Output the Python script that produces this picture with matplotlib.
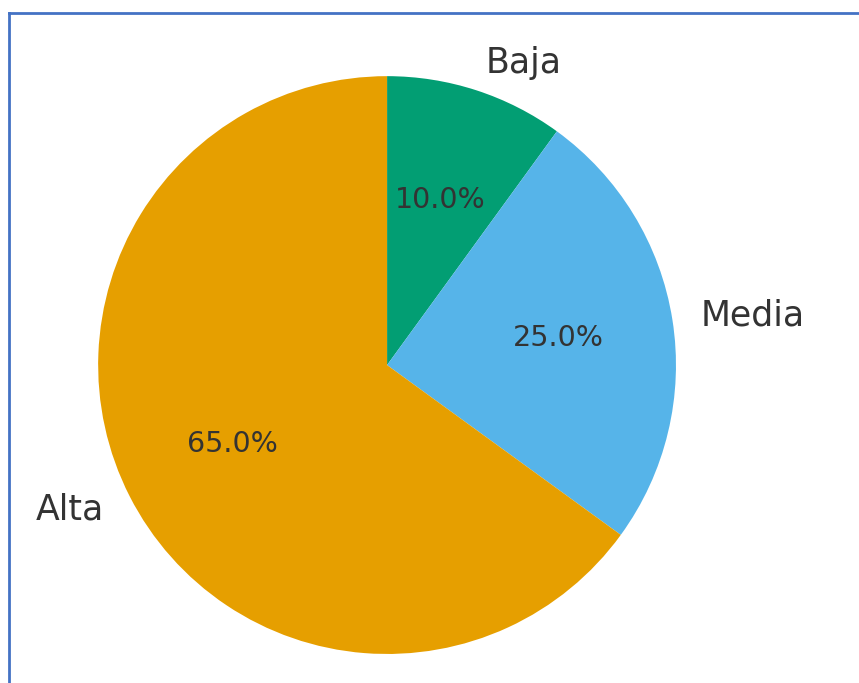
import matplotlib
matplotlib.use("Agg")
import matplotlib.pyplot as plt
from matplotlib.lines import Line2D

labels = ["Baja", "Media", "Alta"]
values = [10, 25, 65]
colors = ["#029E73", "#56B4E9", "#E69F00"]

fig = plt.figure(figsize=(8.59, 6.83), dpi=100)
ax = fig.add_axes([0.1141, 0.0425, 0.673, 0.846])
wedges, texts, autotexts = ax.pie(
    values, labels=labels, colors=colors, startangle=90, counterclock=False,
    autopct="%1.1f%%", pctdistance=0.6, labeldistance=1.1,
    textprops={"color": "#333333"})
for t in texts:
    t.set_fontsize(25)
for t in autotexts:
    t.set_fontsize(20.5)
ax.set_aspect("equal")
ax.set_xlim(-1, 1)
ax.set_ylim(-1, 1)

# partial blue frame
W, H = 859, 683
x0 = 8.5 / W
y0 = 1 - 12.5 / H
fig.add_artist(Line2D([x0, x0], [0, y0], transform=fig.transFigure, color="#4472C4", lw=2))
fig.add_artist(Line2D([x0, 1], [y0, y0], transform=fig.transFigure, color="#4472C4", lw=2))

fig.savefig("out.png", dpi=100)
